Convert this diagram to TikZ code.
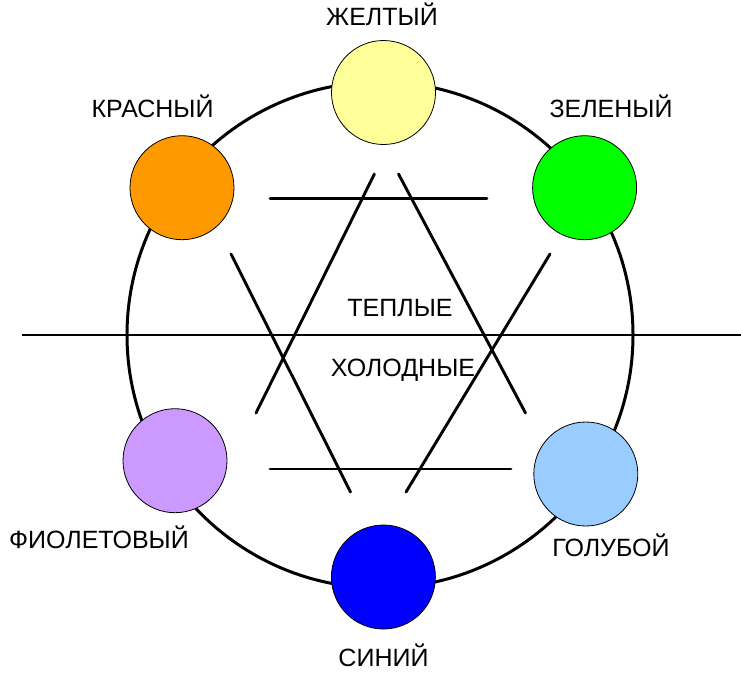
\documentclass[tikz,border=0pt]{standalone}
\usepackage{fontspec}
\setmainfont{Liberation Sans}
\begin{document}
\begin{tikzpicture}[x=1pt,y=-1pt,
  dot/.style={circle,draw=black,line width=0.8pt,minimum size=104pt,inner sep=0pt},
  lbl/.style={font=\fontsize{25}{28}\selectfont,inner sep=0pt},
  hex/.style={line width=2.9pt,line cap=round}]
\useasboundingbox (0,0) rectangle (741,675);
% big circle
\node[circle,draw=black,line width=3pt,minimum size=506pt,inner sep=0pt] (ring) at (380,335) {};
% long horizontal line
\coordinate (hl) at (22,335);
\coordinate (hr) at (741,335);
\draw[line width=1.3pt] (hl) -- (hr);
% hexagram lines
\coordinate (a1) at (270,198.3); \coordinate (a2) at (487,198.3);
\coordinate (b1) at (270,469); \coordinate (b2) at (511,469);
\coordinate (c1) at (374.4,174); \coordinate (c2) at (256,413);
\coordinate (d1) at (398.5,174); \coordinate (d2) at (525.5,413);
\coordinate (e1) at (231,254); \coordinate (e2) at (350.5,492);
\coordinate (f1) at (550,254); \coordinate (f2) at (406,492);
\draw[hex] (a1) -- (a2);
\draw[hex] (b1) -- (b2);
\draw[hex] (c1) -- (c2);
\draw[hex] (d1) -- (d2);
\draw[hex] (e1) -- (e2);
\draw[hex] (f1) -- (f2);
% colour circles
\node[dot,fill={rgb,255:red,255;green,255;blue,153}] (yel) at (383.5,92.5) {};
\node[dot,fill={rgb,255:red,255;green,153;blue,0}] (red) at (182,187.7) {};
\node[dot,fill={rgb,255:red,0;green,255;blue,0}] (grn) at (584.6,187.7) {};
\node[dot,fill={rgb,255:red,204;green,153;blue,255}] (vio) at (175,460.7) {};
\node[dot,fill={rgb,255:red,153;green,204;blue,255}] (lbl1) at (585.8,474) {};
\node[dot,fill={rgb,255:red,0;green,0;blue,255}] (blu) at (383.4,577) {};
% labels
\node[lbl,anchor=base] (tyel) at (382,25) {ЖЕЛТЫЙ};
\node[lbl,anchor=base] (tred) at (152.6,117.5) {КРАСНЫЙ};
\node[lbl,anchor=base] (tgrn) at (611,117.5) {ЗЕЛЕНЫЙ};
\node[lbl,anchor=base] (twarm) at (400,316) {ТЕПЛЫЕ};
\node[lbl,anchor=base] (tcold) at (403,376.5) {ХОЛОДНЫЕ};
\node[lbl,anchor=base] (tvio) at (99,548) {ФИОЛЕТОВЫЙ};
\node[lbl,anchor=base] (tlbl) at (611,556.5) {ГОЛУБОЙ};
\node[lbl,anchor=base] (tblu) at (383.5,666) {СИНИЙ};
\end{tikzpicture}
\end{document}
